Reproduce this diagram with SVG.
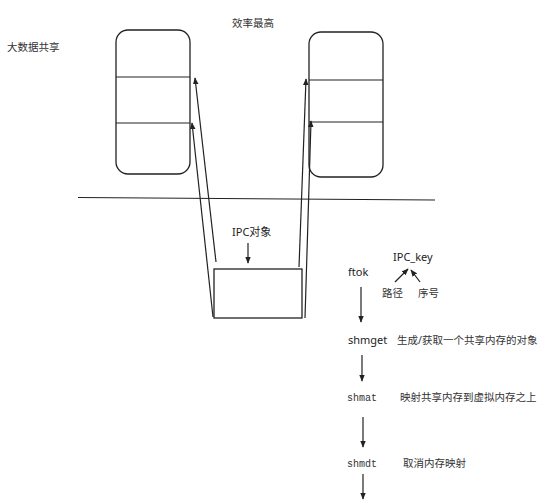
<svg xmlns="http://www.w3.org/2000/svg" width="545" height="500" viewBox="0 0 545 500">
<style>
.t{font-family:"Noto Sans","Noto Sans CJK SC",sans-serif;font-size:10.5px;fill:#333}
.m{font-family:"Liberation Mono","Noto Sans CJK SC",monospace;font-size:10px;fill:#333}
.b{font-family:"Noto Sans","Noto Sans CJK SC",sans-serif;font-size:11px;fill:#222}
.s{fill:#fff;stroke:#222;stroke-width:1.3}
.c{stroke:#222;stroke-width:1.2;fill:none}
</style>
<defs>
<marker id="ah" viewBox="0 0 10 10" refX="9" refY="5" markerWidth="7" markerHeight="7" orient="auto" markerUnits="userSpaceOnUse">
<path d="M0,1 L10,5 L0,9 z" fill="#222"/>
</marker>
</defs>
<rect width="545" height="500" fill="#fff"/>
<g id="labels">
<text class="t" x="232" y="27">效率最高</text>
<text class="t" x="7" y="51">大数据共享</text>
</g>
<g id="left-box">
<rect class="s" x="116" y="30" width="74" height="144" rx="12"/>
<line class="c" x1="116" y1="77" x2="190" y2="77"/>
<line class="c" x1="116" y1="123" x2="190" y2="123"/>
</g>
<g id="right-box">
<rect class="s" x="309" y="32" width="74" height="145" rx="12"/>
<line class="c" x1="309" y1="80" x2="383" y2="80"/>
<line class="c" x1="309" y1="122" x2="383" y2="122"/>
</g>
<g id="divider">
<line class="c" x1="78" y1="197.5" x2="435" y2="200"/>
</g>
<g id="ipc-object">
<rect class="s" x="214" y="269" width="88" height="49"/>
<text class="b" x="232" y="236">IPC对象</text>
</g>
<g id="ftok"><text class="b" x="348" y="276">ftok</text></g>
<g id="ipc-key"><text class="b" x="393" y="261">IPC_key</text></g>
<g id="path"><text class="t" x="382" y="297">路径</text></g>
<g id="seq"><text class="t" x="418" y="297">序号</text></g>
<g id="shmget">
<text class="b" x="348" y="344">shmget</text>
<text class="t" x="397" y="344">生成/获取一个共享内存的对象</text>
</g>
<g id="shmat">
<text class="m" x="347" y="401">shmat</text>
<text class="t" x="400" y="401">映射共享内存到虚拟内存之上</text>
</g>
<g id="shmdt">
<text class="m" x="347" y="467">shmdt</text>
<text class="t" x="403" y="467">取消内存映射</text>
</g>
<g id="connectors">
<line class="c" x1="213" y1="317" x2="192" y2="123" marker-end="url(#ah)"/>
<line class="c" x1="216" y1="262" x2="195" y2="78" marker-end="url(#ah)"/>
<line class="c" x1="299" y1="267" x2="306" y2="79" marker-end="url(#ah)"/>
<line class="c" x1="305" y1="318" x2="311" y2="121" marker-end="url(#ah)"/>
<line class="c" x1="248" y1="243" x2="248" y2="263" marker-end="url(#ah)"/>
<line class="c" x1="395" y1="282" x2="408" y2="269" marker-end="url(#ah)"/>
<line class="c" x1="420" y1="282" x2="411" y2="270" marker-end="url(#ah)"/>
<line class="c" x1="361" y1="287" x2="361" y2="322" marker-end="url(#ah)"/>
<line class="c" x1="362" y1="355" x2="362" y2="381" marker-end="url(#ah)"/>
<line class="c" x1="363" y1="417" x2="363" y2="447" marker-end="url(#ah)"/>
<line class="c" x1="363" y1="474" x2="363" y2="499" marker-end="url(#ah)"/>
</g>
</svg>
